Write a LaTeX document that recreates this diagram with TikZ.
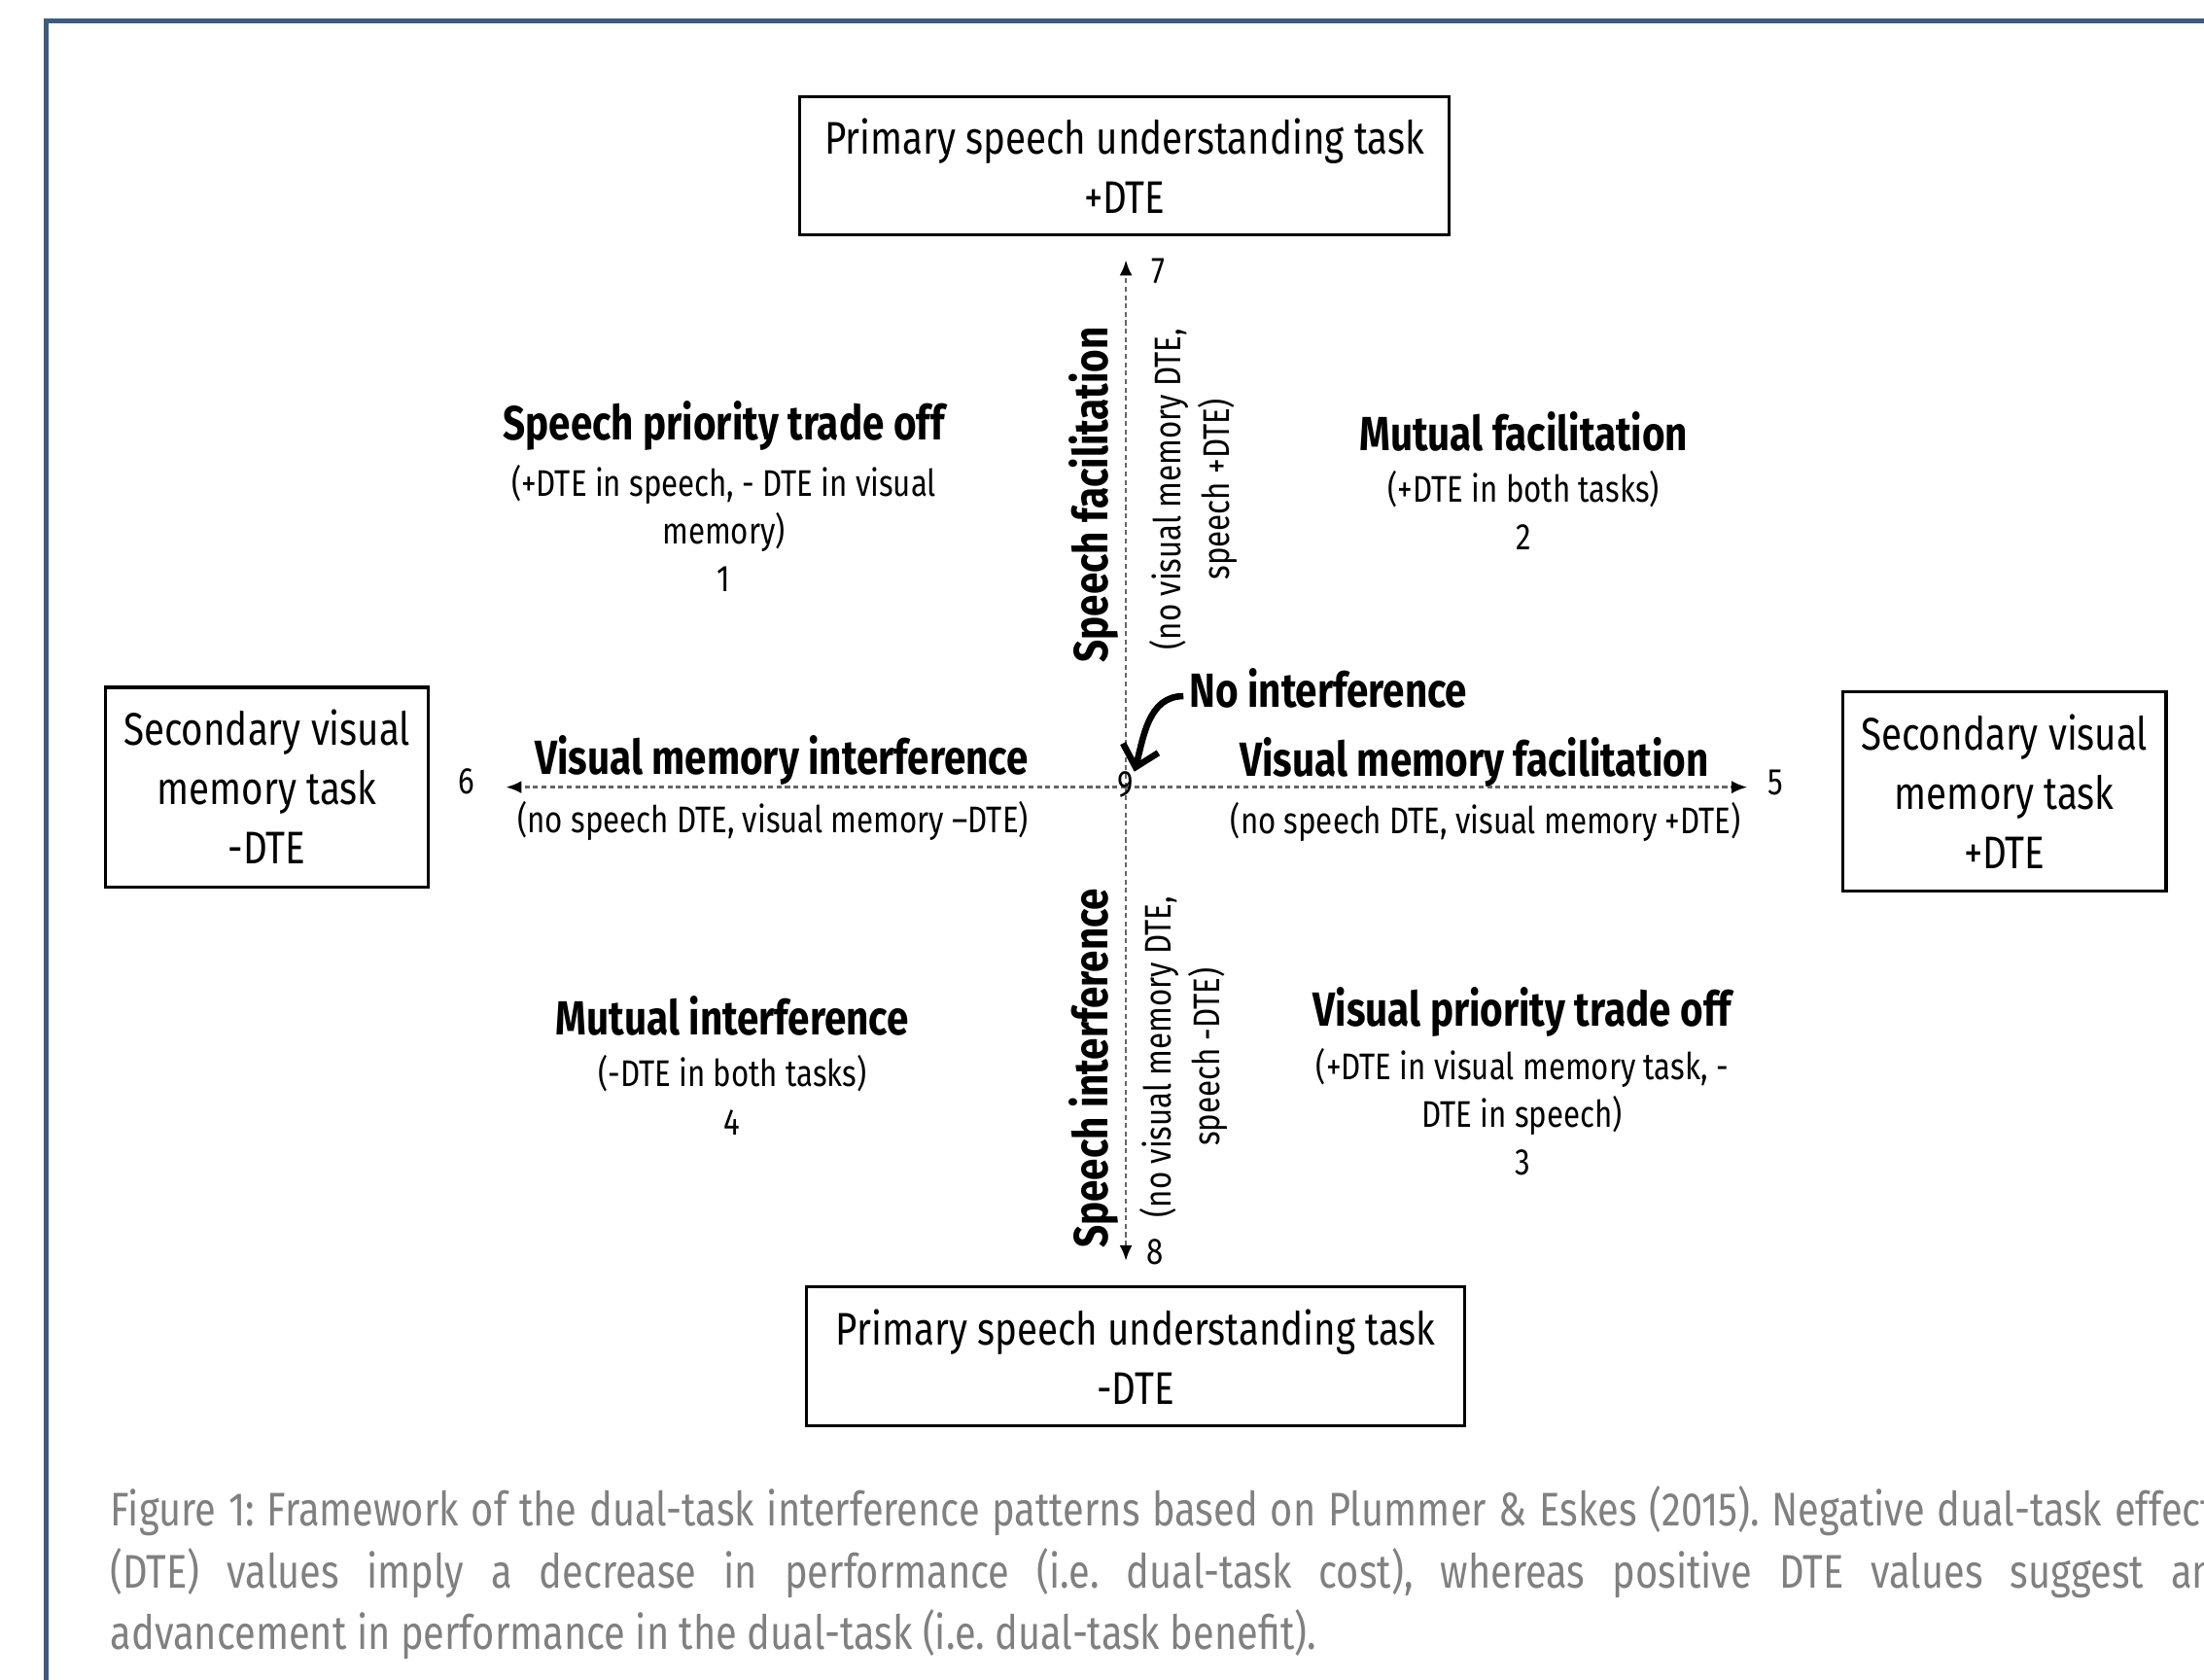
\documentclass[tikz,border=0pt]{standalone}
\usepackage{fontspec}
\setmainfont[FakeStretch=0.82]{Fira Sans}
\usetikzlibrary{arrows.meta}
\definecolor{framecol}{HTML}{3E5B79}
\definecolor{capgray}{HTML}{808080}

\begin{document}
\begin{tikzpicture}[
    task/.style={rectangle, draw, line width=0.6pt, align=center, inner sep=0pt, font=\fontsize{9.25}{12}\selectfont},
    title/.style={font=\bfseries\fontsize{9.7}{11}\selectfont, inner sep=1pt},
    rtitle/.style={title, rotate=90},
    desc/.style={align=center, inner sep=1pt, font=\fontsize{7.5}{9.7}\selectfont},
    rdesc/.style={desc, rotate=90},
    num/.style={font=\fontsize{7.5}{9}\selectfont, inner sep=1pt},
    axis/.style={draw=black!60, line width=0.5pt, dash pattern=on 1pt off 0.7pt, -{Latex[length=1.1mm, width=0.9mm, color=black]}},
    bendarrow/.style={line width=1.3pt, -{Straight Barb[length=1.4mm, width=2.6mm]}},
    caption/.style={text width=14.97cm, align=justify, inner sep=0pt, text=capgray, font=\fontsize{9.55}{12.5}\selectfont\frenchspacing},
]
    \path[clip] (0,0) rectangle (15.68,11.95);
    % frame
    \draw[framecol, line width=1pt] (0.33,0) -- (0.33,11.80) -- (15.68,11.80);

    % Task boxes
    \node[task, minimum width=4.62cm, minimum height=0.98cm] (ptop) at (8.00, 10.77) {Primary speech understanding task\\+DTE};
    \node[task, minimum width=4.68cm, minimum height=0.99cm] (pbot) at (8.08, 2.30) {Primary speech understanding task\\-DTE};
    \node[task, minimum width=2.30cm, minimum height=1.42cm] (sleft) at (1.90, 6.35) {Secondary visual\\memory task\\-DTE};
    \node[task, minimum width=2.30cm, minimum height=1.42cm] (sright) at (14.26, 6.32) {Secondary visual\\memory task\\+DTE};

    % Axes
    \coordinate (o) at (8.01, 6.35);
    \coordinate (up) at (8.01, 10.10);
    \coordinate (down) at (8.01, 2.98);
    \coordinate (lft) at (3.60, 6.35);
    \coordinate (rgt) at (12.43, 6.35);
    \draw[axis] (o) -- (up);
    \draw[axis] (o) -- (down);
    \draw[axis] (o) -- (lft);
    \draw[axis] (o) -- (rgt);
    \node[num] (n9) at (8.01, 6.37) {9};
    \node[num] (n7) at (8.24, 10.02) {7};
    \node[num] (n8) at (8.22, 3.04) {8};
    \node[num] (n6) at (3.32, 6.39) {6};
    \node[num] (n5) at (12.63, 6.38) {5};

    % Vertical axis labels
    \node[rtitle] (sfac) at (7.78, 8.43) {Speech facilitation};
    \node[rdesc] (sfacd) at (8.49, 8.47) {(no visual memory DTE,\\speech +DTE)};
    \node[rtitle] (sint) at (7.78, 4.35) {Speech interference};
    \node[rdesc] (sintd) at (8.42, 4.43) {(no visual memory DTE,\\speech -DTE)};

    % Horizontal axis labels
    \node[title] (vint) at (5.56, 6.54) {Visual memory interference};
    \node[desc] (vintd) at (5.50, 6.11) {(no speech DTE, visual memory --DTE)};
    \node[title] (vfac) at (10.49, 6.53) {Visual memory facilitation};
    \node[desc] (vfacd) at (10.57, 6.10) {(no speech DTE, visual memory +DTE)};

    % No interference
    \node[title] (noint) at (9.45, 7.05) {No interference};
    \coordinate (nitip) at (8.07, 6.46);
    \draw[bendarrow] ([yshift=-1.5pt]noint.west) to[out=180, in=75] (nitip);

    % Quadrants
    \node[title] (q1) at (5.15, 8.92) {Speech priority trade off};
    \node[desc] (q1d) at (5.15, 8.19) {(+DTE in speech, - DTE in visual\\memory)\\1};
    \node[title] (q2) at (10.84, 8.88) {Mutual facilitation};
    \node[desc] (q2d) at (10.84, 8.32) {(+DTE in both tasks)\\2};
    \node[title] (q3) at (10.83, 4.75) {Visual priority trade off};
    \node[desc] (q3d) at (10.83, 4.04) {(+DTE in visual memory task, -\\DTE in speech)\\3};
    \node[title] (q4) at (5.21, 4.72) {Mutual interference};
    \node[desc] (q4d) at (5.21, 4.16) {(-DTE in both tasks)\\4};

    % Caption
    \node[caption, anchor=west] (cap) at (0.78, 0.76) {Figure 1: Framework of the dual-task interference patterns based on Plummer \& Eskes (2015). Negative dual-task effect\linebreak (DTE) values imply a decrease in performance (i.e. dual-task cost), whereas positive DTE values suggest an\linebreak advancement in performance in the dual-task (i.e. dual-task benefit).};
\end{tikzpicture}
\end{document}
